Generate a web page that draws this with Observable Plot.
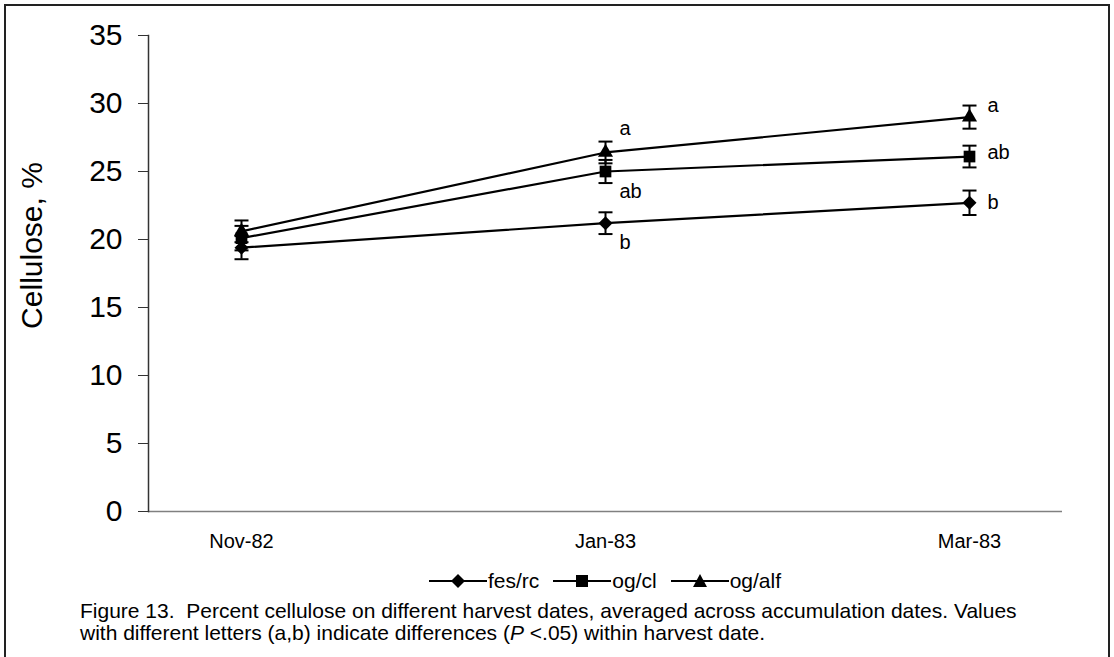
<!DOCTYPE html>
<html>
<head>
<meta charset="utf-8">
<script src="https://cdn.jsdelivr.net/npm/d3@7"></script>
<script src="https://cdn.jsdelivr.net/npm/@observablehq/plot@0.6"></script>
<style>
  html, body { margin: 0; padding: 0; background: #fff; }
  #wrap { position: relative; width: 1114px; height: 657px; overflow: hidden; font-family: "Liberation Sans", Arial, sans-serif; }
  #border { position: absolute; left: 4px; top: 4px; width: 1106px; height: 700px; border: 2px solid #222; box-sizing: border-box; }
  #chart { position: absolute; left: 0; top: 0; }
  #legend { position: absolute; left: 148px; width: 914px; top: 569px; display: flex; justify-content: center; align-items: center; font-size: 21px; color: #000; }
  #legend .item { display: flex; align-items: center; margin: 0 7px; }
  #legend svg { margin-right: 1px; }
  #caption { position: absolute; left: 80px; top: 600px; font-size: 21px; line-height: 22px; color: #000; white-space: nowrap; }
</style>
</head>
<body>
<div id="wrap">
  <div id="border"></div>
  <div id="chart"></div>
  <div id="legend"></div>
  <div id="caption">Figure 13.&nbsp; Percent cellulose on different harvest dates, averaged across accumulation dates. Values<br>with different letters (a,b) indicate differences (<i>P</i> &lt;.05) within harvest date.</div>
</div>
<script>
// ---- data ----
const harvestDates = ["Nov-82", "Jan-83", "Mar-83"];
const monthAxis = ["Nov-82", "Dec-82", "Jan-83", "Feb-83", "Mar-83"];
const seriesNames = ["fes/rc", "og/cl", "og/alf"];
const fesRc = [19.4, 21.2, 22.7];
const fesRcErr = [0.85, 0.8, 0.9];
const ogCl = [20.1, 25.0, 26.1];
const ogClErr = [0.9, 0.85, 0.8];
const ogAlf = [20.6, 26.4, 29.0];
const ogAlfErr = [0.8, 0.8, 0.85];
const lettersJan = ["b", "ab", "a"];
const lettersMar = ["b", "ab", "a"];
const yTicks = [0, 5, 10, 15, 20, 25, 30, 35];
const yLabel = "Cellulose, %";

const values = [fesRc, ogCl, ogAlf];
const errs = [fesRcErr, ogClErr, ogAlfErr];
const symbols = ["diamond2", "square", "triangle"];
const radii = {"fes/rc": 6.3, "og/cl": 6.6, "og/alf": 5.6};

const rows = [];
seriesNames.forEach((s, si) => {
  harvestDates.forEach((d, di) => {
    rows.push({series: s, date: d, value: values[si][di], err: errs[si][di]});
  });
});
const letterRows = [];
seriesNames.forEach((s, si) => {
  letterRows.push({series: s, date: "Jan-83", value: values[si][1], text: lettersJan[si]});
  letterRows.push({series: s, date: "Mar-83", value: values[si][2], text: lettersMar[si]});
});

const capSymbol = {
  draw(context) {
    context.moveTo(-7, 0);
    context.lineTo(7, 0);
  }
};

const letterDy = {
  "Jan-83": {"fes/rc": 19, "og/cl": 20, "og/alf": -24},
  "Mar-83": {"fes/rc": 0, "og/cl": -4, "og/alf": -12}
};

const marks = [
  Plot.ruleY([0], {stroke: "#808080", strokeWidth: 1.5}),
  Plot.axisY({ticks: yTicks, tickSize: 10, tickPadding: 16, fontSize: 30, label: null, stroke: "#333"}),
  Plot.frame({anchor: "left", stroke: "#333", strokeWidth: 1.5}),
  Plot.axisX({ticks: harvestDates, tickSize: 0, tickPadding: 22, fontSize: 20, label: null}),
  Plot.text([yLabel], {frameAnchor: "left", text: d => d, rotate: -90, textAnchor: "middle", lineAnchor: "middle", dx: -116, dy: -28, fontSize: 30}),
  Plot.line(rows, {x: "date", y: "value", z: "series", stroke: "#000", strokeWidth: 2.2}),
  Plot.ruleX(rows, {x: "date", y1: d => d.value - d.err, y2: d => d.value + d.err, stroke: "#000", strokeWidth: 2}),
  Plot.dot(rows, {x: "date", y: d => d.value + d.err, symbol: capSymbol, stroke: "#000", strokeWidth: 2, fill: "none", r: 4}),
  Plot.dot(rows, {x: "date", y: d => d.value - d.err, symbol: capSymbol, stroke: "#000", strokeWidth: 2, fill: "none", r: 4})
];
seriesNames.forEach((s, si) => {
  marks.push(Plot.dot(rows.filter(d => d.series === s), {x: "date", y: "value", symbol: symbols[si], r: radii[s], fill: "#000", stroke: "none"}));
});
letterRows.forEach(r => {
  marks.push(Plot.text([r], {
    x: "date", y: "value", text: "text",
    dx: r.date === "Jan-83" ? 14 : 18,
    dy: letterDy[r.date][r.series],
    textAnchor: "start", fontSize: 20, fill: "#000"
  }));
});

const chart = Plot.plot({
  width: 1114,
  height: 560,
  marginLeft: 148,
  marginRight: 52,
  marginTop: 35,
  marginBottom: 49,
  style: {fontFamily: "'Liberation Sans', Arial, sans-serif", fontSize: "20px", color: "#000", background: "transparent"},
  x: {type: "point", domain: monthAxis, padding: 0.5},
  y: {domain: [0, 35]},
  marks
});
document.getElementById("chart").appendChild(chart);

// ---- legend ----
const legend = document.getElementById("legend");
const legendShapes = {
  "fes/rc": '<polygon points="29,1 36,8 29,15 22,8" fill="#000"/>',
  "og/cl": '<rect x="23" y="2" width="12" height="12" fill="#000"/>',
  "og/alf": '<polygon points="29,1 36,14 22,14" fill="#000"/>'
};
seriesNames.forEach(s => {
  const item = document.createElement("div");
  item.className = "item";
  item.innerHTML = '<svg width="58" height="16"><line x1="0" y1="8" x2="58" y2="8" stroke="#000" stroke-width="2"/>' + legendShapes[s] + '</svg><span>' + s + '</span>';
  legend.appendChild(item);
});
</script>
</body>
</html>
